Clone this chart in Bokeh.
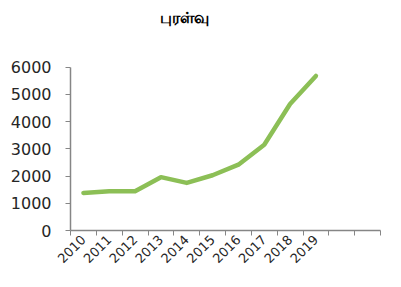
import math
from bokeh.plotting import figure
from bokeh.models import FixedTicker, Range1d, Label, ColumnDataSource
from bokeh.embed import file_html
from bokeh.resources import INLINE

title_text = "புரள்வு"
years = ["2010", "2011", "2012", "2013", "2014", "2015", "2016", "2017", "2018", "2019"]
n_slots = 12
values = [1380, 1440, 1440, 1960, 1750, 2030, 2420, 3150, 4650, 5680]
y_ticks = [0, 1000, 2000, 3000, 4000, 5000, 6000]
y_max = 6000
y_top = 8270  # headroom above the value axis for the title

xs = [i + 0.5 for i in range(len(years))]
src = ColumnDataSource(dict(x=xs, y=values))

p = figure(width=385, height=271, output_backend="svg", toolbar_location=None,
           x_range=Range1d(0, n_slots), y_range=Range1d(0, y_top),
           min_border_left=70, min_border_right=5, min_border_top=5, min_border_bottom=41)
p.outline_line_color = None
p.grid.grid_line_color = None
p.background_fill_color = "white"
p.border_fill_color = "white"

t = Label(x=3.45, y=7830, text=title_text,
          text_font="Noto Sans", text_font_size="16px", text_font_style="bold",
          text_color="#000000", text_baseline="middle", text_align="left")
p.add_layout(t)

p.line("x", "y", source=src, line_color="#8CBF56", line_width=4.5, line_cap="round", line_join="round")

axis_color = "#868686"
p.xaxis.ticker = FixedTicker(ticks=xs, minor_ticks=list(range(n_slots + 1)))
p.xaxis.major_label_overrides = {x: y for x, y in zip(xs, years)}
p.xaxis.major_tick_out = 0
p.xaxis.major_tick_in = 0
p.xaxis.minor_tick_out = 5
p.xaxis.minor_tick_in = 0
p.xaxis.minor_tick_line_color = axis_color
p.xaxis.axis_line_color = axis_color
p.xaxis.major_label_orientation = math.pi / 4
p.xaxis.major_label_standoff = 2
p.xaxis.major_label_text_font_size = "13px"

p.yaxis.ticker = FixedTicker(ticks=y_ticks)
p.yaxis.bounds = (0, y_max)
p.yaxis.major_tick_out = 5
p.yaxis.major_tick_in = 0
p.yaxis.minor_tick_line_color = None
p.yaxis.major_tick_line_color = axis_color
p.yaxis.axis_line_color = axis_color
p.yaxis.major_label_standoff = 14
p.yaxis.major_label_text_font_size = "16px"

for ax in (p.xaxis, p.yaxis):
    ax.major_label_text_font = "DejaVu Sans"
    ax.major_label_text_color = "#262626"
    ax.axis_line_width = 1.5

open("out.html", "w").write(file_html(p, INLINE))
